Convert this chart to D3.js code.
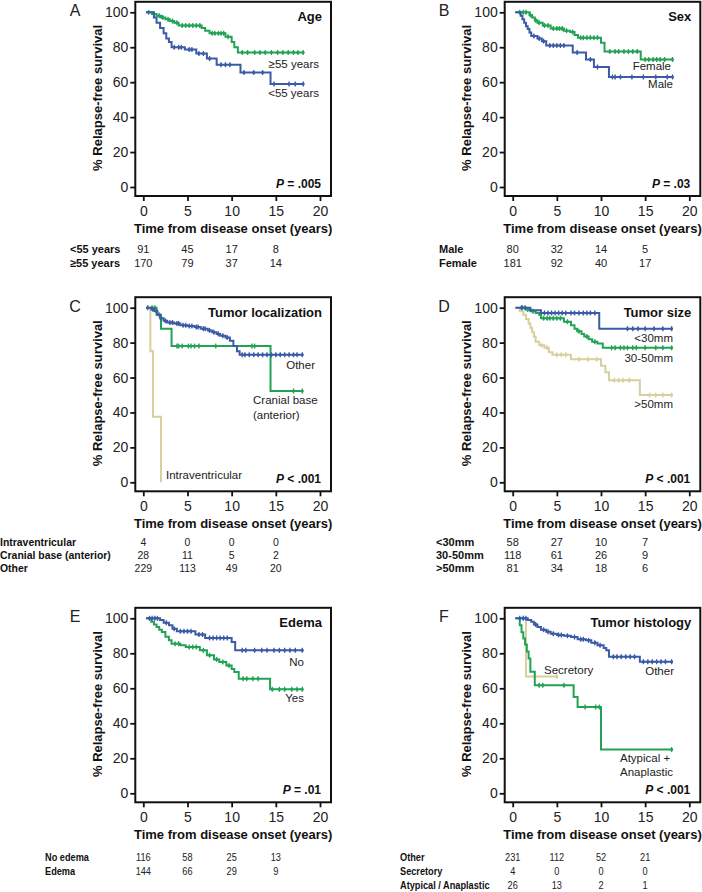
<!DOCTYPE html>
<html><head><meta charset="utf-8">
<script src="https://cdn.jsdelivr.net/npm/d3@7"></script>
<style>
html,body{margin:0;padding:0;background:#fff;}
svg{display:block;font-family:"Liberation Sans",Arial,Helvetica,sans-serif;}
</style></head>
<body><svg id="c" width="702" height="892"></svg>
<script>
// ---------- DATA ----------
const xTicks = [0, 5, 10, 15, 20];
const yTicks = [0, 20, 40, 60, 80, 100];
const riskTimes = [0, 5, 10, 15];

// Panel A: Age
const aLt55T = [0.3, 1.2, 1.5, 1.9, 2.3, 2.6, 2.9, 3.2, 4.7, 6.0, 7.2, 8.3, 11.0, 14.4];
const aLt55S = [100, 97, 94, 91, 88, 85, 83, 80, 78.7, 76.4, 73.5, 70, 65.5, 59];
const aLt55C = [3.5, 4.0, 4.3, 5.2, 5.5, 6.3, 6.8, 7.5, 8.8, 9.3, 9.8, 11.4, 12.5, 13.5, 14.8, 16.5, 17.2, 18.1];
const aGe55T = [0.3, 1.0, 1.5, 2.0, 2.5, 3.0, 3.5, 4.0, 6.6, 7.0, 7.5, 9.3, 10.0, 10.3, 10.7];
const aGe55S = [100, 99, 98, 97, 96, 95, 94, 92.5, 91, 89.5, 88, 86, 83, 80, 77];
const aGe55C = [0.6, 1.2, 1.8, 2.2, 2.8, 3.3, 3.8, 4.4, 4.8, 5.2, 5.6, 6.0, 6.4, 7.8, 8.1, 8.5, 8.8, 9.1, 9.6, 11.2, 11.8, 12.6, 13.2, 13.8, 14.5, 15.2, 15.8, 16.4, 17.0, 17.5, 18.1];
const aRiskLabels = ["<55 years", "\u226555 years"];
const aRisk = [[91, 45, 17, 8], [170, 79, 37, 14]];

// Panel B: Sex
const bMaleT = [0.3, 0.9, 1.1, 1.3, 1.5, 1.7, 1.9, 2.1, 2.8, 3.3, 3.8, 6.8, 8.3, 9.2, 10.9];
const bMaleS = [100, 98, 96, 94, 92, 90.5, 88.5, 86.5, 85, 83.5, 81, 77, 73, 68.7, 63];
const bMaleC = [2.4, 3.0, 3.5, 4.2, 4.6, 5.0, 5.4, 5.8, 7.3, 8.8, 9.6, 11.3, 11.6, 12.2, 13.5, 14.8, 16.2, 17.5, 18.1];
const bFemT = [0.3, 1.9, 2.2, 2.5, 2.8, 3.4, 4.3, 5.8, 6.5, 7.0, 7.4, 10.0, 10.4, 14.5];
const bFemS = [100, 98.5, 97, 95.5, 94, 92.5, 90.7, 89.5, 88.7, 87, 85.5, 82.5, 77.5, 73];
const bFemC = [0.8, 1.2, 1.5, 2.0, 2.6, 3.0, 3.6, 4.0, 4.6, 5.0, 5.3, 5.6, 6.1, 6.8, 7.7, 8.0, 8.4, 8.8, 9.2, 9.6, 11.0, 11.6, 12.0, 12.6, 13.1, 13.6, 14.1, 15.0, 15.4, 15.9, 16.3, 16.7, 17.2, 18.1];
const bRiskLabels = ["Male", "Female"];
const bRisk = [[80, 32, 14, 5], [181, 92, 40, 17]];

// Panel C: Tumor localization
const cOtherT = [0.3, 0.9, 1.3, 1.6, 1.9, 2.3, 2.7, 3.5, 4.2, 5.0, 5.8, 6.5, 7.3, 7.8, 8.3, 8.7, 9.3, 9.8, 10.2, 10.6, 10.9];
const cOtherS = [100, 99, 98, 96, 94, 92.5, 91.5, 91, 90, 89.5, 89, 88, 87, 86, 85, 84, 83, 81, 78, 75, 73];
const cOtherC = [0.5, 1.1, 1.5, 2.0, 2.5, 3.0, 3.3, 3.8, 4.0, 4.5, 4.8, 5.2, 5.5, 6.0, 6.2, 6.8, 7.0, 7.5, 8.0, 8.5, 9.0, 9.5, 11.2, 11.5, 12.0, 12.5, 13.0, 13.5, 14.0, 14.5, 15.0, 15.5, 16.0, 16.5, 17.0, 17.4, 18.0];
const cCranT = [0.8, 1.5, 2.0, 3.2, 14.4];
const cCranS = [100, 96, 88, 78, 52.3];
const cCranC = [1.0, 1.3, 1.8, 3.8, 4.0, 4.4, 5.1, 5.4, 5.8, 6.3, 8.2, 12.3, 12.6, 17.0, 18.0];
const cIntraT = [0.7, 0.8, 1.1, 2.0];
const cIntraS = [100, 75, 37.5, 0];
const cIntraC = [];
const cRiskLabels = ["Intraventricular", "Cranial base (anterior)", "Other"];
const cRisk = [[4, 0, 0, 0], [28, 11, 5, 2], [229, 113, 49, 20]];

// Panel D: Tumor size
const dSmallT = [0.3, 2.0, 3.2, 9.8];
const dSmallS = [100, 98.5, 97, 88];
const dSmallC = [1.0, 1.4, 3.6, 4.0, 4.4, 4.8, 5.2, 5.6, 6.0, 6.6, 7.0, 7.5, 8.0, 8.4, 8.8, 9.3, 13.0, 13.6, 14.2, 15.0, 16.0, 17.0, 18.0];
const dMidT = [0.8, 1.5, 2.0, 2.6, 3.0, 3.2, 5.8, 6.6, 7.0, 7.3, 7.8, 8.1, 8.6, 9.0, 9.6, 10.2];
const dMidS = [100, 99, 98, 97, 96, 94, 92, 90, 88, 86.5, 85, 83.5, 82, 80.5, 79.5, 77];
const dMidC = [1.1, 1.7, 2.3, 3.5, 3.9, 4.2, 4.6, 5.0, 5.4, 6.2, 7.5, 8.4, 9.3, 11.2, 11.6, 12.2, 12.6, 13.0, 13.6, 14.0, 15.0, 16.2, 17.0, 18.0];
const dLargeT = [0.3, 0.8, 1.2, 1.5, 1.8, 2.0, 2.2, 2.4, 2.6, 3.0, 3.6, 4.1, 4.5, 6.6, 10.0, 10.5, 10.9, 14.4];
const dLargeS = [100, 98, 96, 93.5, 91, 88.5, 86, 83.5, 80.5, 78.5, 77, 74.5, 73, 70.5, 66.7, 63, 58.5, 50];
const dLargeC = [3.3, 3.9, 5.0, 5.5, 6.0, 7.5, 8.5, 9.5, 11.5, 12.0, 12.5, 13.2, 15.5, 16.2, 17.0, 18.0];
const dRiskLabels = ["<30mm", "30-50mm", ">50mm"];
const dRisk = [[58, 27, 10, 7], [118, 61, 26, 9], [81, 34, 18, 6]];

// Panel E: Edema
const eNoT = [0.3, 1.9, 2.3, 2.9, 3.3, 3.8, 5.9, 7.0, 10.0, 10.4];
const eNoS = [100, 99, 97.5, 96, 94, 92.6, 90.7, 88.8, 86.5, 81.7];
const eNoC = [0.7, 1.0, 1.3, 1.6, 2.6, 3.5, 4.2, 4.6, 5.0, 5.4, 6.3, 6.7, 7.5, 7.9, 8.3, 8.7, 9.1, 9.5, 11.2, 11.6, 12.6, 13.4, 14.0, 14.8, 15.4, 16.0, 16.6, 17.2, 18.0];
const eYesT = [0.3, 0.9, 1.2, 1.5, 1.8, 2.1, 2.5, 2.9, 3.2, 4.2, 4.8, 6.4, 7.2, 8.0, 8.6, 9.4, 10.0, 10.3, 10.8, 14.35];
const eYesS = [100, 98, 96.5, 95, 93.5, 92.2, 89.5, 87.4, 85.5, 84.6, 83.6, 81.7, 78.9, 76.5, 75, 73, 71, 69.3, 65.5, 59.4];
const eYesC = [3.6, 4.0, 5.2, 5.6, 6.0, 6.8, 7.5, 8.3, 9.0, 9.7, 11.3, 11.7, 12.4, 13.0, 14.6, 15.4, 16.0, 16.8, 17.4, 18.0];
const eRiskLabels = ["No edema", "Edema"];
const eRisk = [[116, 58, 25, 13], [144, 66, 29, 9]];

// Panel F: Tumor histology
const fOtherT = [0.3, 1.7, 2.1, 2.4, 2.8, 3.2, 3.8, 4.3, 5.0, 5.8, 6.6, 7.35, 8.3, 8.9, 9.6, 10.3, 10.6, 10.9, 14.4];
const fOtherS = [100, 99, 98, 96.5, 95, 93.5, 92.3, 91.2, 90.5, 90, 89.3, 88, 87.4, 86, 84.6, 83, 81.7, 78, 75.2];
const fOtherC = [0.8, 1.2, 1.5, 2.6, 3.5, 4.0, 4.6, 5.2, 5.5, 6.2, 7.0, 7.7, 8.0, 8.6, 9.3, 9.9, 11.4, 11.8, 12.3, 12.8, 13.3, 13.8, 14.8, 15.3, 15.8, 16.3, 16.8, 17.3, 18.0];
const fSecT = [0.5, 1.5];
const fSecS = [100, 66.7];
const fSecC = [1.2, 5.0];
const fAtypT = [0.3, 0.8, 1.0, 1.2, 1.4, 1.6, 1.8, 2.0, 2.5, 6.9, 7.35, 10.0];
const fAtypS = [100, 96, 92, 88.5, 85, 81, 77, 69.5, 61.7, 55, 49.3, 25];
const fAtypC = [3.0, 3.4, 5.8, 8.2, 9.4, 9.8, 18.0];
const fRiskLabels = ["Other", "Secretory", "Atypical / Anaplastic"];
const fRisk = [[231, 112, 52, 21], [4, 0, 0, 0], [26, 13, 2, 1]];

// ---------- STYLE / LAYOUT ----------
const BLUE = "#3b5ba6", GREEN = "#22a255", TAN = "#d8cf9d";
const svg = d3.select("#c");

function endOf(cens, times) {
  return Math.max(d3.max(times), cens.length ? d3.max(cens) : 0);
}

function drawPanel(p) {
  const x = d3.scaleLinear().domain([0, 20]).range([p.x0, p.x20]);
  const y = d3.scaleLinear().domain([0, 100]).range([p.y0, p.y100]);
  const g = svg.append("g");
  const bl = p.x0 - 8, br = p.x20 + 11, bt = p.y100 - 10.5, bb = p.y0 + 9;

  // curves
  const line = d3.line().x(d => x(d[0])).y(d => y(d[1])).curve(d3.curveStepAfter);
  p.curves.forEach(c => {
    const pts = c.t.map((t, i) => [t, c.s[i]]);
    const end = c.end !== undefined ? c.end : endOf(c.c, c.t);
    pts.push([end, c.s[c.s.length - 1]]);
    g.append("path").attr("d", line(pts)).attr("fill", "none")
      .attr("stroke", c.color).attr("stroke-width", 2);
    const sAt = tt => { let v = c.s[0]; c.t.forEach((t, i) => { if (t <= tt) v = c.s[i]; }); return v; };
    c.c.forEach(ct => {
      const yy = y(sAt(ct));
      g.append("line").attr("x1", x(ct)).attr("x2", x(ct)).attr("y1", yy - 2.5).attr("y2", yy + 2.5)
        .attr("stroke", c.color).attr("stroke-width", 1.3);
      g.append("circle").attr("cx", x(ct)).attr("cy", yy).attr("r", 1.5).attr("fill", c.color);
    });
  });

  // frame
  g.append("rect").attr("x", bl).attr("y", bt).attr("width", br - bl).attr("height", bb - bt)
    .attr("fill", "none").attr("stroke", "#111").attr("stroke-width", 2);

  // axes
  const ya = g.append("g").attr("transform", `translate(${bl},0)`)
    .call(d3.axisLeft(y).tickValues(yTicks).tickSize(5).tickPadding(2));
  const xa = g.append("g").attr("transform", `translate(0,${bb})`)
    .call(d3.axisBottom(x).tickValues(xTicks).tickSize(5).tickPadding(5));
  [ya, xa].forEach(a => {
    a.select(".domain").remove();
    a.selectAll("line").attr("stroke", "#111").attr("stroke-width", 1.8);
    a.selectAll("text").attr("font-size", 14).attr("fill", "#222")
      .attr("font-family", "'Liberation Sans',Arial,sans-serif");
  });

  // y label
  g.append("text").attr("transform", `translate(${p.ylabX},${(bt + bb) / 2 - 1}) rotate(-90)`)
    .attr("text-anchor", "middle").attr("dominant-baseline", "central")
    .attr("font-size", 13).attr("font-weight", "bold").attr("fill", "#111")
    .text("% Relapse-free survival");
  // x label
  g.append("text").attr("x", (bl + br) / 2).attr("y", bb + 32)
    .attr("text-anchor", "middle").attr("dominant-baseline", "central")
    .attr("font-size", 13).attr("font-weight", "bold").attr("fill", "#111")
    .text("Time from disease onset (years)");
  // panel letter
  g.append("text").attr("x", p.letterX).attr("y", bt + 9).attr("text-anchor", "middle")
    .attr("dominant-baseline", "central").attr("font-size", 16).attr("fill", "#222").text(p.letter);
  // title
  g.append("text").attr("x", br - 9).attr("y", bt + 15).attr("text-anchor", "end")
    .attr("dominant-baseline", "central").attr("font-size", 13).attr("font-weight", "bold")
    .attr("fill", "#111").text(p.title);
  // p value
  const pt = g.append("text").attr("x", br - 10).attr("y", bb - 12.5).attr("text-anchor", "end")
    .attr("dominant-baseline", "central").attr("font-size", 12).attr("font-weight", "bold").attr("fill", "#111");
  pt.append("tspan").attr("font-style", "italic").text("P");
  pt.append("tspan").text(p.pval);

  // group labels
  p.labels.forEach(l => {
    g.append("text").attr("x", l.x).attr("y", l.y).attr("text-anchor", l.anchor || "end")
      .attr("dominant-baseline", "central").attr("font-size", 11.5).attr("fill", "#222").text(l.text);
  });

  // risk table
  const sx = p.condense || 1;
  const fs = p.tableFont || 11;
  p.riskLabels.forEach((lab, i) => {
    const yy = p.tableY + i * p.tableStep;
    g.append("text").attr("transform", `translate(${p.tableX},${yy}) scale(${sx},1)`)
      .attr("dominant-baseline", "central")
      .attr("font-size", fs).attr("font-weight", "bold").attr("fill", "#111").text(lab);
    p.risk[i].forEach((n, j) => {
      g.append("text").attr("transform", `translate(${x(riskTimes[j])},${yy}) scale(${sx},1)`)
        .attr("text-anchor", "middle")
        .attr("dominant-baseline", "central").attr("font-size", fs).attr("fill", "#222").text(n);
    });
  });
}

const L = {x0: 143.3, x20: 320, ylabX: 97, letterX: 75};
const R = {x0: 512.7, x20: 689.3, ylabX: 466, letterX: 444};
const ROW1 = {y100: 12.3, y0: 187};
const ROW2 = {y100: 307.7, y0: 482.3};
const ROW3 = {y100: 618.3, y0: 793.3};

drawPanel(Object.assign({}, L, ROW1, {
  letter: "A", title: "Age", pval: " = .005",
  curves: [
    {t: aGe55T, s: aGe55S, c: aGe55C, color: GREEN},
    {t: aLt55T, s: aLt55S, c: aLt55C, color: BLUE}
  ],
  labels: [{text: "\u226555 years", x: 319, y: 64}, {text: "<55 years", x: 319, y: 93}],
  riskLabels: aRiskLabels, risk: aRisk, tableX: 70, tableY: 249, tableStep: 14
}));
drawPanel(Object.assign({}, R, ROW1, {
  letter: "B", title: "Sex", pval: " = .03",
  curves: [
    {t: bFemT, s: bFemS, c: bFemC, color: GREEN},
    {t: bMaleT, s: bMaleS, c: bMaleC, color: BLUE}
  ],
  labels: [{text: "Female", x: 671, y: 66}, {text: "Male", x: 673, y: 84}],
  riskLabels: bRiskLabels, risk: bRisk, tableX: 439, tableY: 249, tableStep: 14
}));
drawPanel(Object.assign({}, L, ROW2, {
  letter: "C", title: "Tumor localization", pval: " < .001",
  curves: [
    {t: cIntraT, s: cIntraS, c: cIntraC, color: TAN, end: 2.0},
    {t: cCranT, s: cCranS, c: cCranC, color: GREEN},
    {t: cOtherT, s: cOtherS, c: cOtherC, color: BLUE}
  ],
  labels: [{text: "Other", x: 315, y: 365},
           {text: "Cranial base", x: 253, y: 400, anchor: "start"},
           {text: "(anterior)", x: 253, y: 415, anchor: "start"},
           {text: "Intraventricular", x: 166, y: 475, anchor: "start"}],
  riskLabels: cRiskLabels, risk: cRisk, tableX: 0, tableY: 542, tableStep: 13,
  condense: 0.95
}));
drawPanel(Object.assign({}, R, ROW2, {
  letter: "D", title: "Tumor size", pval: " < .001",
  curves: [
    {t: dLargeT, s: dLargeS, c: dLargeC, color: TAN},
    {t: dMidT, s: dMidS, c: dMidC, color: GREEN},
    {t: dSmallT, s: dSmallS, c: dSmallC, color: BLUE}
  ],
  labels: [{text: "<30mm", x: 673, y: 338}, {text: "30-50mm", x: 673, y: 358}, {text: ">50mm", x: 673, y: 404}],
  riskLabels: dRiskLabels, risk: dRisk, tableX: 436, tableY: 542, tableStep: 13
}));
drawPanel(Object.assign({}, L, ROW3, {
  letter: "E", title: "Edema", pval: " = .01",
  curves: [
    {t: eYesT, s: eYesS, c: eYesC, color: GREEN},
    {t: eNoT, s: eNoS, c: eNoC, color: BLUE}
  ],
  labels: [{text: "No", x: 304, y: 662}, {text: "Yes", x: 304, y: 698}],
  riskLabels: eRiskLabels, risk: eRisk, tableX: 45, tableY: 857, tableStep: 14,
  condense: 0.8, tableFont: 11.5
}));
drawPanel(Object.assign({}, R, ROW3, {
  letter: "F", title: "Tumor histology", pval: " < .001",
  curves: [
    {t: fSecT, s: fSecS, c: fSecC, color: TAN},
    {t: fAtypT, s: fAtypS, c: fAtypC, color: GREEN},
    {t: fOtherT, s: fOtherS, c: fOtherC, color: BLUE}
  ],
  labels: [{text: "Secretory", x: 544, y: 670, anchor: "start"},
           {text: "Other", x: 674, y: 671},
           {text: "Atypical +", x: 620, y: 758, anchor: "start"},
           {text: "Anaplastic", x: 620, y: 772, anchor: "start"}],
  riskLabels: fRiskLabels, risk: fRisk, tableX: 400, tableY: 857, tableStep: 14,
  condense: 0.8, tableFont: 11.5
}));
</script></body></html>
